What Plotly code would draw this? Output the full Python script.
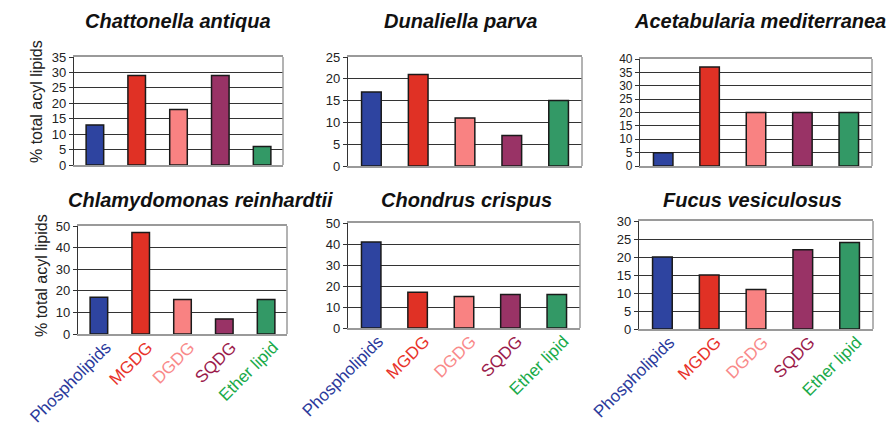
import plotly.graph_objects as go

# The page body has an 8px default margin, so the figure is drawn 8px in from
# the window's top-left corner; positions below are given in window pixels.
OFF = 8
WIN_W, WIN_H = 895, 424
W, H = WIN_W - OFF, WIN_H - OFF

categories = ["Phospholipids", "MGDG", "DGDG", "SQDG", "Ether lipid"]
titles = ["Chattonella antiqua", "Dunaliella parva", "Acetabularia mediterranea",
          "Chlamydomonas reinhardtii", "Chondrus crispus", "Fucus vesiculosus"]
chattonella = [13, 29, 18, 29, 6]
dunaliella = [17, 21, 11, 7, 15]
acetabularia = [5, 37, 20, 20, 20]
chlamydomonas = [17, 47, 16, 7, 16]
chondrus = [41, 17, 15, 16, 16]
fucus = [20, 15, 11, 22, 24]
series = [chattonella, dunaliella, acetabularia, chlamydomonas, chondrus, fucus]
y_max = [35, 25, 40, 50, 50, 30]
y_step = [5, 5, 5, 10, 10, 5]
y_title = "% total acyl lipids"

bar_colors = ["#2E44A0", "#E03125", "#F98282", "#993366", "#339966"]
label_colors = ["#2B3A9C", "#E8322A", "#F98A8A", "#9B1B4B", "#19AA4A"]

# layout in window pixels: (left, right, top, bottom)
boxes = [(74, 283, 57, 165), (348, 582, 57, 166), (640, 872, 59, 166),
         (78, 287, 226, 334), (348, 580, 223, 328), (639, 873, 221, 329)]
title_pos = [(178, 21), (460, 21), (760, 21), (200, 200), (466, 200), (752, 200)]
tick_sizes = [13, 13, 12, 13, 13, 13]

FONT = "Liberation Sans, Arial, Helvetica, sans-serif"


def px(xw):
    return (xw - OFF) / W


def py(yw):
    return 1 - (yw - OFF) / H


fig = go.Figure()
annotations = []
shapes = []
for i, (vals, box) in enumerate(zip(series, boxes)):
    n = "" if i == 0 else str(i + 1)
    xa, ya = "x" + n, "y" + n
    fig.add_trace(go.Bar(
        x=categories, y=vals, xaxis=xa, yaxis=ya,
        marker=dict(color=bar_colors, line=dict(color="#1a1a1a", width=1.5)),
        width=0.42, showlegend=False, hoverinfo="x+y"))
    l, r, t, b = box
    dom_x = [px(l), px(r)]
    dom_y = [py(b), py(t)]
    bottom_row = i >= 3
    ticktext = [f'<span style="color:{c}">{cat}</span>' for cat, c in zip(categories, label_colors)]
    fig.update_layout(**{
        ("xaxis" + n): dict(
            domain=dom_x, anchor=ya, type="category", automargin=False,
            showline=True, linecolor="#9a9a9a", linewidth=1.5, mirror=True,
            showgrid=False, ticks="",
            showticklabels=bottom_row, tickangle=-45,
            ticklabelshift=7, ticklabelstandoff=-5,
            tickmode="array", tickvals=categories, ticktext=ticktext,
            tickfont=dict(family=FONT, size=17),
            range=[-0.5, 4.5]),
        ("yaxis" + n): dict(
            domain=dom_y, anchor=xa, automargin=False,
            range=[0, y_max[i]], dtick=y_step[i], tick0=0,
            showgrid=True, gridcolor="#333333", gridwidth=1,
            zeroline=False,
            showline=True, linecolor="#333333", linewidth=1.2,
            ticks="outside", ticklen=4, tickcolor="#333333",
            tickfont=dict(family=FONT, size=tick_sizes[i], color="#222222")),
    })
    shapes.append(dict(type="line", xref=xa + " domain", yref=ya + " domain",
                       x0=1, x1=1, y0=0, y1=1,
                       line=dict(color="#9a9a9a", width=1.5)))
    tx, ty = title_pos[i]
    annotations.append(dict(text=f"<b><i>{titles[i]}</i></b>", xref="paper", yref="paper",
                            x=px(tx), y=py(ty), xanchor="center", yanchor="middle",
                            showarrow=False, font=dict(family=FONT, size=20, color="#111111")))

annotations.append(dict(text=y_title, xref="paper", yref="paper", x=px(37), y=py(102),
                        textangle=-90, xanchor="center", yanchor="middle", showarrow=False,
                        font=dict(family=FONT, size=16, color="#222222")))
annotations.append(dict(text=y_title, xref="paper", yref="paper", x=px(41), y=py(276),
                        textangle=-90, xanchor="center", yanchor="middle", showarrow=False,
                        font=dict(family=FONT, size=16, color="#222222")))

fig.update_layout(width=W, height=H, margin=dict(l=0, r=0, t=0, b=0),
                  paper_bgcolor="white", plot_bgcolor="white",
                  annotations=annotations, shapes=shapes, bargap=0.58)

fig.write_html("out.html")
